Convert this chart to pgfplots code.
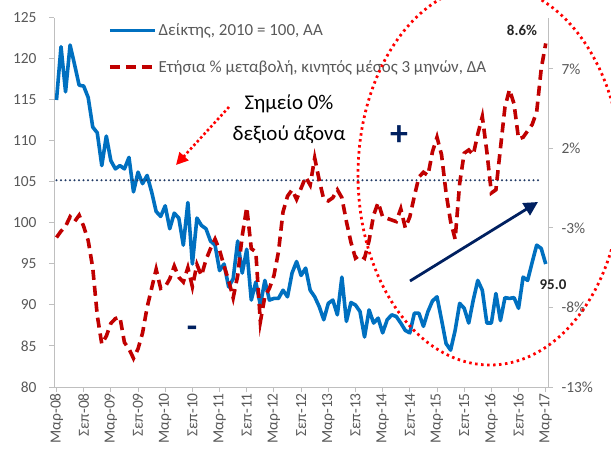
\documentclass[border=0pt]{standalone}
\usepackage{fontspec}
\setmainfont{Carlito}
\usepackage{pgfplots}
\usepackage{pgfplotstable}
\pgfplotsset{compat=1.18}
\usetikzlibrary{arrows.meta}

\definecolor{blueline}{HTML}{0070C0}
\definecolor{redline}{HTML}{C00000}
\definecolor{navy}{HTML}{002060}
\definecolor{zeroline}{HTML}{1F3864}
\definecolor{brightred}{HTML}{FF0000}
\definecolor{axisgray}{HTML}{BFBFBF}
\definecolor{labelgray}{HTML}{595959}

\newcommand\tickfont{\fontsize{15.5}{17}\selectfont}
\newcommand\legfont{\fontsize{17}{19}\selectfont}

% month index (0 = Mar-08), index 2010=100 (left), yoy % 3m avg (right)
\pgfplotstableread{
m idx pct
0 115.0 -3.6
1 121.5 -3.2
2 116.0 -2.9
3 121.7 -2.3
4 119.3 -2.6
5 116.8 -2.2
6 116.7 -2.9
7 115.3 -3.8
8 111.7 -5.5
9 111.0 -8.5
10 107.0 -10.3
11 110.6 -9.8
12 107.6 -9.0
13 106.6 -8.7
14 107.0 -8.6
15 106.6 -10.2
16 108.0 -10.6
17 103.8 -11.2
18 106.2 -10.6
19 104.8 -9.6
20 105.8 -8.0
21 103.8 -6.8
22 101.4 -5.6
23 100.8 -6.8
24 102.1 -6.7
25 99.3 -6.2
26 101.2 -5.4
27 100.6 -6.1
28 97.3 -6.4
29 102.5 -5.5
30 95.0 -6.7
31 100.6 -5.3
32 99.7 -6.0
33 99.3 -5.0
34 97.8 -4.3
35 97.3 -3.7
36 94.2 -4.4
37 95.0 -5.4
38 92.2 -6.3
39 93.2 -7.4
40 97.8 -6.0
41 93.9 -3.5
42 96.8 -1.7
43 90.6 -4.3
44 92.8 -4.5
45 90.0 -8.9
46 93.0 -7.3
47 90.6 -6.8
48 90.8 -6.0
49 90.8 -4.5
50 91.8 -2.0
51 91.0 -1.0
52 93.9 -0.6
53 95.3 -1.2
54 93.6 -0.5
55 94.5 0.2
56 91.8 -0.3
57 91.0 1.4
58 89.8 0.0
59 88.2 -1.2
60 90.2 -1.3
61 90.6 -1.1
62 88.8 -0.6
63 93.4 -1.1
64 88.0 -2.6
65 90.3 -3.9
66 90.0 -4.9
67 89.2 -4.7
68 86.1 -4.9
69 89.4 -3.8
70 87.8 -2.2
71 88.4 -1.4
72 86.6 -2.3
73 88.2 -2.4
74 88.8 -2.5
75 88.6 -2.6
76 87.8 -1.8
77 86.9 -3.0
78 86.6 -2.3
79 89.0 -1.0
80 89.0 0.2
81 87.4 0.5
82 89.2 0.3
83 90.5 1.8
84 91.0 2.7
85 88.2 1.6
86 85.3 -0.8
87 84.5 -2.6
88 86.9 -3.7
89 90.2 -0.2
90 89.6 1.7
91 87.8 1.9
92 90.6 1.6
93 93.0 2.9
94 91.8 4.0
95 87.8 1.8
96 87.8 -0.8
97 91.4 -0.6
98 88.1 2.0
99 90.9 4.6
100 90.8 5.7
101 90.9 4.8
102 89.6 2.6
103 93.4 2.7
104 93.0 3.1
105 95.2 3.5
106 97.3 4.3
107 96.9 7.0
108 95.0 8.6
}\series

\pgfplotsset{
  base/.style={
    at={(54bp,65bp)}, anchor=south west,
    scale only axis, width=494bp, height=369bp,
    xmin=-0.55, xmax=108.5,
    axis line style={draw=axisgray, line width=1bp},
    tick align=outside, major tick length=5bp,
    tick style={draw=axisgray, line width=1bp},
    ticklabel style={font=\tickfont, text=labelgray},
    /pgf/number format/assume math mode=true,
  },
  bluestyle/.style={blueline, line width=3.6bp, line join=round},
  redstyle/.style={redline, line width=3.6bp, dash pattern=on 10bp off 6bp},
}

\begin{document}
\begin{tikzpicture}
\useasboundingbox (0,0) rectangle (611bp,452bp);

\begin{axis}[base,
  ymin=80, ymax=125,
  axis x line*=bottom, axis y line*=left,
  ytick={80,85,...,125},
  yticklabel style={xshift=-9bp},
  xtick={0,6,...,108},
  xticklabels={Μαρ-08,Σεπ-08,Μαρ-09,Σεπ-09,Μαρ-10,Σεπ-10,Μαρ-11,Σεπ-11,Μαρ-12,Σεπ-12,Μαρ-13,Σεπ-13,Μαρ-14,Σεπ-14,Μαρ-15,Σεπ-15,Μαρ-16,Σεπ-16,Μαρ-17},
  xticklabel style={rotate=90, anchor=east, inner sep=1bp},
]
\addplot[bluestyle] table[x=m, y=idx] {\series};
\end{axis}

\begin{axis}[base,
  ymin=-13, ymax=10.2,
  axis x line=none, axis y line*=right,
  ytick={-13,-8,-3,2,7},
  yticklabels={-13\%,-8\%,-3\%,2\%,7\%},
  yticklabel style={xshift=5bp},
  legend style={at={(0.109,0.99)}, anchor=north west, draw=none, fill=none,
    font=\legfont, text=labelgray, row sep=19bp, inner sep=0pt,
    nodes={inner sep=2bp}},
  legend cell align=left,
  legend image code/.code={\draw[#1] (0bp,0bp) -- (45bp,0bp);},
]
\addlegendimage{bluestyle}
\addlegendentry{Δείκτης, 2010 = 100, ΑΑ}
\addplot[zeroline, line width=2.4bp, line cap=round, dash pattern=on 0bp off 4.5bp, forget plot]
  coordinates {(0,0) (106.5,0)};
\addplot[redstyle] table[x=m, y=pct] {\series};
\addlegendentry{Ετήσια \% μεταβολή, κινητός μέσος 3 μηνών, ΔΑ}
\end{axis}

% annotations
\draw[brightred, line width=2.8bp, dash pattern=on 2.5bp off 3.5bp]
  (490bp,277bp) ellipse [x radius=132bp, y radius=190bp];
\draw[brightred, line width=2.6bp, dash pattern=on 2.5bp off 2.5bp, -{Triangle[length=12bp,width=12bp]}]
  (229bp,345bp) -- (176bp,287bp);
\draw[navy, line width=2.8bp, -{Triangle[length=14bp,width=14bp]}]
  (410bp,171bp) -- (538bp,250bp);
\node[align=center, font=\fontsize{21}{31}\selectfont] at (289bp,333bp) {Σημείο 0\%\\δεξιού άξονα};
\node[font=\fontsize{36}{36}\selectfont\bfseries, text=navy] at (399bp,316bp) {+};
\node[font=\fontsize{34}{34}\selectfont\bfseries, text=navy] at (192bp,120bp) {-};
\node[font=\fontsize{15}{17}\selectfont\bfseries, text=black!85] at (522bp,422bp) {8.6\%};
\node[font=\fontsize{15}{17}\selectfont\bfseries, text=black!85] at (553bp,167bp) {95.0};
\end{tikzpicture}
\end{document}
